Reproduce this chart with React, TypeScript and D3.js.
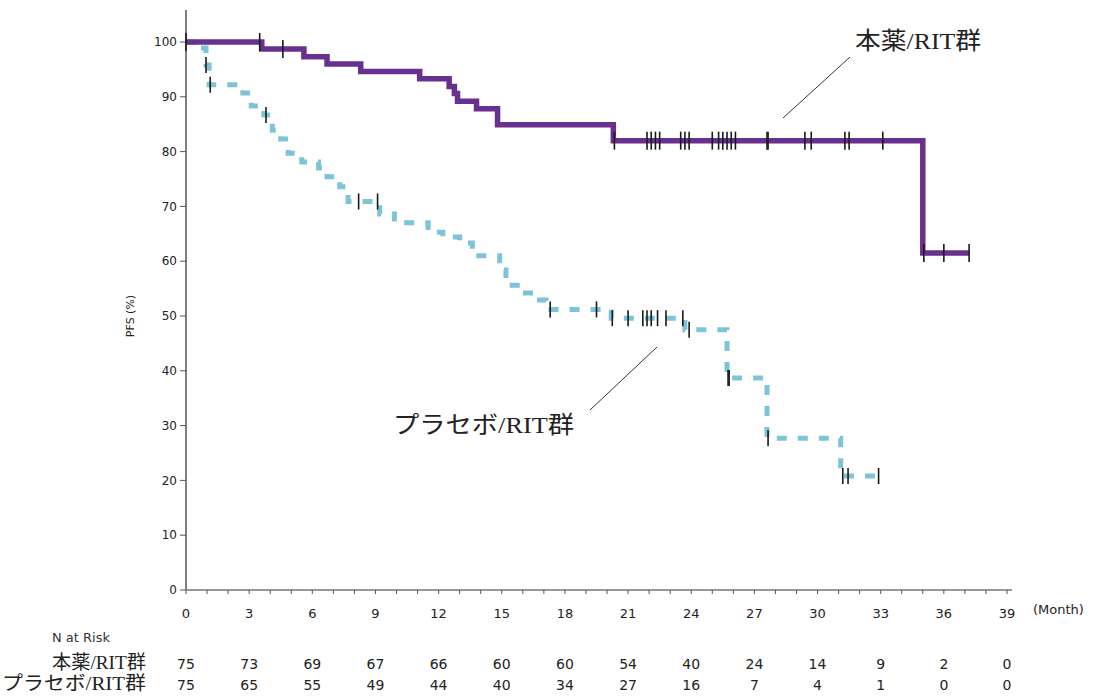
import React, { useEffect, useRef } from "react";
import * as d3 from "d3";

// 本薬/RIT群 (purple): step times and PFS after each step
const treatTime = [0, 3.6, 5.6, 6.7, 8.3, 11.1, 12.5, 12.75, 12.9, 13.8, 14.8, 20.3, 35.0];
const treatSurv = [100, 98.7, 97.3, 96.0, 94.6, 93.3, 91.9, 90.6, 89.2, 87.8, 84.9, 82.0, 61.5];
const treatEnd = 37.2;
const treatCensor = [
  0, 3.5, 4.6, 20.35, 21.9, 22.1, 22.3, 22.5, 23.5, 23.7, 23.9, 25.0, 25.3, 25.5, 25.7,
  25.9, 26.1, 27.6, 27.65, 29.4, 29.7, 31.3, 31.5, 33.1, 35.05, 36.0, 37.2,
];

// プラセボ/RIT群 (cyan dashed)
const placTime = [
  0, 0.7, 0.95, 1.1, 2.7, 3.1, 3.7, 4.1, 4.5, 4.85, 5.5, 6.3, 6.7, 7.3, 7.7, 9.2, 9.9, 11.5,
  12.2, 13.0, 13.6, 14.9, 15.2, 15.9, 16.5, 17.1, 20.2, 23.7, 25.7, 27.6, 31.1,
];
const placSurv = [
  100, 98.9, 95.8, 92.2, 90.7, 88.3, 86.7, 83.9, 82.3, 79.7, 78.1, 77.0, 75.4, 73.6, 70.9,
  68.6, 67.0, 65.3, 64.4, 63.3, 61.0, 58.4, 55.6, 54.2, 52.9, 51.2, 49.6, 47.5, 38.7, 27.7, 20.8,
];
const placEnd = 32.9;
const placCensor = [
  0.95, 1.15, 3.8, 8.2, 9.1, 17.3, 19.5, 20.25, 21.0, 21.7, 21.9, 22.1, 22.4, 22.8, 23.6,
  23.9, 25.75, 25.8, 27.65, 31.2, 31.45, 32.9,
];

const xTicks = d3.range(0, 40, 3);
const yTicks = d3.range(0, 101, 10);
const riskTreat = [75, 73, 69, 67, 66, 60, 60, 54, 40, 24, 14, 9, 2, 0];
const riskPlac = [75, 65, 55, 49, 44, 40, 34, 27, 16, 7, 4, 1, 0, 0];

const sans = "'DejaVu Sans', Tahoma, sans-serif";
const serif = "'Liberation Serif', 'Noto Sans CJK JP', serif";

export default function App() {
  const svgRef = useRef<SVGSVGElement>(null);

  useEffect(() => {
    const svg = d3.select(svgRef.current);
    svg.selectAll("*").remove();

    const x = d3.scaleLinear().domain([0, 39]).range([186, 1007]);
    const y = d3.scaleLinear().domain([0, 100]).range([590, 42]);

    // y axis
    const yAxis = svg.append("g").attr("transform", `translate(${x(0)},0)`);
    yAxis.append("line").attr("y1", 10).attr("y2", y(0)).attr("stroke", "#555").attr("stroke-width", 1.5);
    yAxis
      .selectAll("g")
      .data(yTicks)
      .join("g")
      .attr("transform", (d) => `translate(0,${y(d)})`)
      .call((g) => g.append("line").attr("x1", -6).attr("x2", 0).attr("stroke", "#555"))
      .call((g) =>
        g
          .append("text")
          .attr("x", -9)
          .attr("dy", "0.35em")
          .attr("text-anchor", "end")
          .attr("font-family", sans)
          .attr("font-size", 12)
          .attr("fill", "#222")
          .text((d) => d)
      );
    svg
      .append("text")
      .attr("transform", `translate(134,${y(50)}) rotate(-90)`)
      .attr("text-anchor", "middle")
      .attr("font-family", sans)
      .attr("font-size", 11)
      .attr("fill", "#222")
      .text("PFS (%)");

    // x axis
    const xAxis = svg.append("g").attr("transform", `translate(0,${y(0)})`);
    xAxis.append("line").attr("x1", x(0)).attr("x2", 1012).attr("stroke", "#777").attr("stroke-width", 1.5);
    xAxis
      .selectAll("line.tick")
      .data(d3.range(0, 40, 1))
      .join("line")
      .attr("class", "tick")
      .attr("x1", (d) => x(d))
      .attr("x2", (d) => x(d))
      .attr("y1", 0)
      .attr("y2", 4)
      .attr("stroke", "#555");
    xAxis
      .selectAll("text")
      .data(xTicks)
      .join("text")
      .attr("x", (d) => x(d))
      .attr("y", 28)
      .attr("text-anchor", "middle")
      .attr("font-family", sans)
      .attr("font-size", 13)
      .attr("fill", "#222")
      .text((d) => d);
    svg
      .append("text")
      .attr("x", 1033)
      .attr("y", 614)
      .attr("font-family", sans)
      .attr("font-size", 13)
      .attr("fill", "#222")
      .text("(Month)");

    const line = d3
      .line<[number, number]>()
      .x((d) => x(d[0]))
      .y((d) => y(d[1]))
      .curve(d3.curveStepAfter);

    const survAt = (times: number[], surv: number[], t: number) => {
      let v = surv[0];
      times.forEach((tt, i) => {
        if (tt <= t) v = surv[i];
      });
      return v;
    };

    const drawCurve = (
      times: number[],
      surv: number[],
      end: number,
      censor: number[],
      color: string,
      dash: string | null,
      width: number,
      markH: number
    ) => {
      const pts: [number, number][] = times.map((t, i) => [t, surv[i]]);
      pts.push([end, surv[surv.length - 1]]);
      const p = svg
        .append("path")
        .attr("d", line(pts))
        .attr("fill", "none")
        .attr("stroke", color)
        .attr("stroke-width", width);
      if (dash) p.attr("stroke-dasharray", dash);
      svg
        .append("g")
        .selectAll("line")
        .data(censor)
        .join("line")
        .attr("x1", (d) => x(d))
        .attr("x2", (d) => x(d))
        .attr("y1", (d) => y(survAt(times, surv, d)) - markH / 2)
        .attr("y2", (d) => y(survAt(times, surv, d)) + markH / 2)
        .attr("stroke", "#1a1a1a")
        .attr("stroke-width", 1.6);
    };

    drawCurve(placTime, placSurv, placEnd, placCensor, "#7ec4d8", "10,11", 5, 16);
    drawCurve(treatTime, treatSurv, treatEnd, treatCensor, "#68318f", null, 5.5, 18);

    // group labels with leader lines
    svg.append("line").attr("x1", 783).attr("y1", 118).attr("x2", 850).attr("y2", 57).attr("stroke", "#333");
    svg.append("line").attr("x1", 590).attr("y1", 410).attr("x2", 657).attr("y2", 347).attr("stroke", "#333");
    svg
      .append("text")
      .attr("x", 855)
      .attr("y", 49)
      .attr("font-family", serif)
      .attr("font-size", 24)
      .attr("textLength", 126)
      .attr("lengthAdjust", "spacingAndGlyphs")
      .attr("fill", "#222")
      .text("本薬/RIT群");
    svg
      .append("text")
      .attr("x", 393)
      .attr("y", 433)
      .attr("font-family", serif)
      .attr("font-size", 24)
      .attr("textLength", 181)
      .attr("lengthAdjust", "spacingAndGlyphs")
      .attr("fill", "#222")
      .text("プラセボ/RIT群");

    // number at risk table
    svg
      .append("text")
      .attr("x", 52)
      .attr("y", 642)
      .attr("font-family", sans)
      .attr("font-size", 13)
      .attr("fill", "#333")
      .text("N at Risk");
    const rows: [string, number[], number, number][] = [
      ["本薬/RIT群", riskTreat, 669, 94],
      ["プラセボ/RIT群", riskPlac, 690, 144],
    ];
    rows.forEach(([label, vals, yy, len]) => {
      svg
        .append("text")
        .attr("x", 146)
        .attr("y", yy)
        .attr("text-anchor", "end")
        .attr("font-family", serif)
        .attr("font-size", 19)
        .attr("textLength", len)
        .attr("lengthAdjust", "spacingAndGlyphs")
        .attr("fill", "#222")
        .text(label);
      svg
        .append("g")
        .selectAll("text")
        .data(vals)
        .join("text")
        .attr("x", (_, i) => x(xTicks[i]))
        .attr("y", yy)
        .attr("text-anchor", "middle")
        .attr("font-family", sans)
        .attr("font-size", 14)
        .attr("fill", "#222")
        .text((d) => d);
    });
  }, []);

  return (
    <div>
      <svg
        ref={svgRef}
        width={1096}
        height={697}
        style={{ position: "absolute", left: 0, top: 0, background: "#fff" }}
      ></svg>
    </div>
  );
}
